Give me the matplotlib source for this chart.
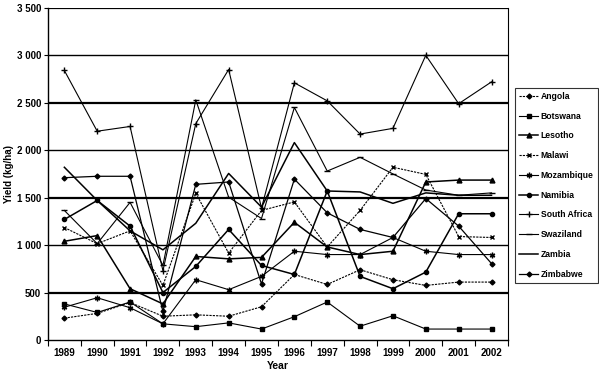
import matplotlib as mpl
import matplotlib.pyplot as plt
from matplotlib.ticker import FixedLocator, MultipleLocator

# maize yield (kg/ha) by country
years = ["1989", "1990", "1991", "1992", "1993", "1994", "1995",
         "1996", "1997", "1998", "1999", "2000", "2001", "2002"]

angola = [230, 280, 395, 250, 265, 250, 350, 690, 585, 740, 635, 575, 610, 610]
botswana = [380, 290, 400, 170, 140, 180, 115, 245, 400, 145, 255, 115, 115, 115]
lesotho = [1040, 1100, 540, 380, 880, 855, 870, 1240, 980, 900, 935, 1665, 1685, 1685]
malawi = [1185, 1015, 1150, 575, 1545, 915, 1365, 1455, 980, 1365, 1820, 1745, 1090, 1080]
mozambique = [345, 445, 340, 170, 635, 530, 670, 935, 900, 900, 1080, 935, 900, 900]
namibia = [1270, 1470, 1200, 500, 775, 1165, 785, 690, 1570, 670, 540, 715, 1330, 1330]
south_africa = [2840, 2200, 2250, 730, 2280, 2850, 1390, 2710, 2520, 2170, 2230, 3000, 2490, 2720]
swaziland = [1365, 1015, 1450, 785, 2530, 1505, 1280, 2450, 1780, 1925, 1750, 1580, 1525, 1550]
zambia = [1820, 1470, 1150, 950, 1230, 1755, 1400, 2080, 1570, 1560, 1440, 1550, 1525, 1525]
zimbabwe = [1710, 1725, 1725, 300, 1640, 1665, 590, 1695, 1340, 1165, 1080, 1490, 1200, 805]

mpl.rcParams.update({"font.family": ["Liberation Sans", "DejaVu Sans"], "font.weight": "bold"})

# (label, values, marker, markersize, linewidth, linestyle)
series = [
    ("Angola", angola, "D", 2.5, 0.8, (0, (2, 1))),
    ("Botswana", botswana, "s", 3.0, 0.8, "-"),
    ("Lesotho", lesotho, "^", 3.5, 1.1, "-"),
    ("Malawi", malawi, "x", 3.5, 0.8, (0, (2, 1))),
    ("Mozambique", mozambique, (6, 2, 0), 4.0, 0.8, "-"),
    ("Namibia", namibia, "o", 3.0, 1.1, "-"),
    ("South Africa", south_africa, "+", 4.5, 0.8, "-"),
    ("Swaziland", swaziland, "_", 4.5, 0.8, "-"),
    ("Zambia", zambia, None, 0, 1.1, "-"),
    ("Zimbabwe", zimbabwe, "D", 2.5, 0.9, "-"),
]

fig = plt.figure(figsize=(5.99, 3.74), dpi=100)
ax = fig.add_axes([0.080, 0.091, 0.768, 0.888])

x = list(range(len(years)))
for label, vals, mk, ms, lw, ls in series:
    ax.plot(x, vals, color="black", lw=lw, ls=ls, marker=mk, ms=ms,
            mew=1.0, mfc="black", mec="black", label=label, zorder=3)

ax.set_ylim(0, 3500)
ax.set_xlim(-0.5, len(years) - 0.5)
ax.yaxis.set_major_locator(MultipleLocator(500))
ax.yaxis.set_major_formatter(plt.FuncFormatter(lambda v, p: f"{int(v):,}".replace(",", " ")))
for v in range(500, 3501, 500):
    ax.axhline(v, color="black", lw=1.6 if v % 1000 else 1.0, zorder=1)

ax.set_xticks(x)
ax.set_xticklabels(years)
ax.xaxis.set_minor_locator(FixedLocator([i - 0.5 for i in range(len(years) + 1)]))
ax.tick_params(axis="x", which="major", length=0, labelsize=7, pad=6)
ax.tick_params(axis="x", which="minor", length=4, width=0.8, direction="out")
ax.tick_params(axis="y", length=3, width=0.8, labelsize=7, pad=2)

for s in ["left", "bottom"]:
    ax.spines[s].set_linewidth(1.0)
ax.spines["top"].set_visible(False)
ax.spines["right"].set_linewidth(0.8)

ax.set_ylabel("Yield (kg/ha)", fontsize=7, fontweight="bold")
ax.yaxis.set_label_coords(-0.074, 0.5)
ax.set_xlabel("Year", fontsize=7.5, fontweight="bold", labelpad=2)

leg = ax.legend(loc="upper left", bbox_to_anchor=(1.015, 0.76), fontsize=6.2,
                frameon=True, fancybox=False, edgecolor="black", borderpad=0.5,
                labelspacing=1.25, handlelength=2.2, handletextpad=0.3, borderaxespad=0)
leg.get_frame().set_linewidth(0.8)

fig.savefig("out.png", dpi=100)
